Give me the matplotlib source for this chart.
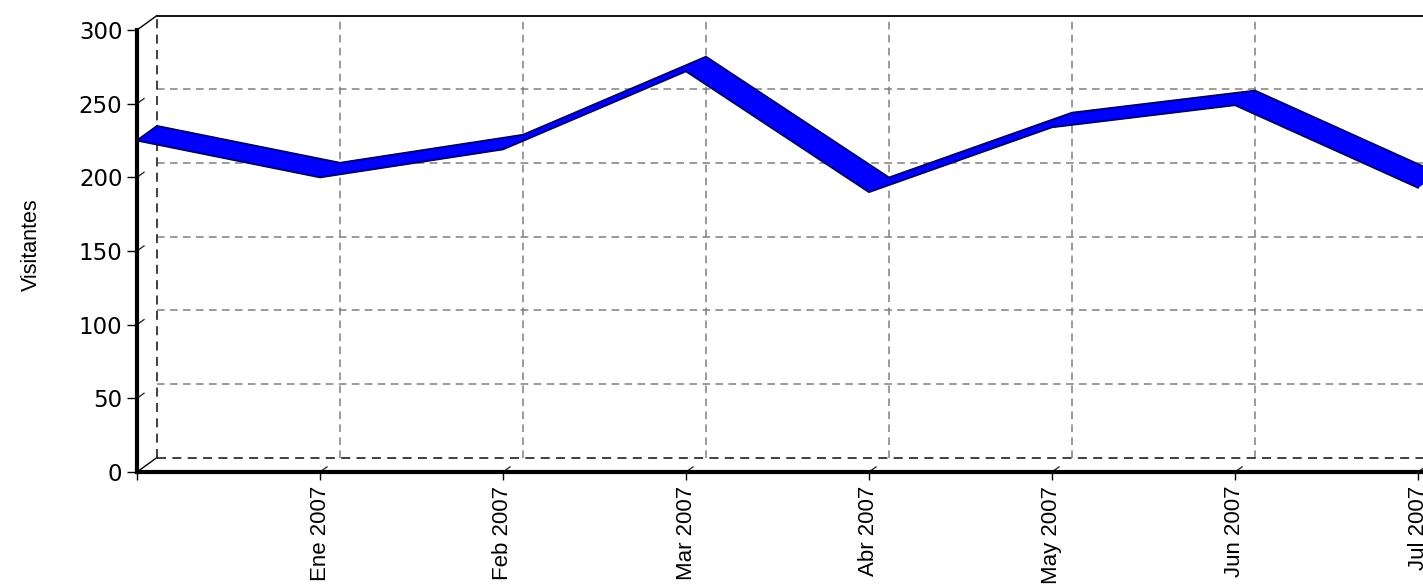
import matplotlib
matplotlib.use("Agg")
import matplotlib.pyplot as plt

# ---- data ----
categories = ["", "Ene 2007", "Feb 2007", "Mar 2007", "Abr 2007", "May 2007", "Jun 2007", "Jul 2007"]
visitantes = [225, 200, 219, 272, 190, 234, 249, 193]
y_ticks = [0, 50, 100, 150, 200, 250, 300]
y_label = "Visitantes"

plt.rcParams['font.family'] = ['Liberation Sans', 'DejaVu Sans']

W, H = 1423, 584
fig = plt.figure(figsize=(W / 100, H / 100), dpi=100)
fig.patch.set_facecolor('white')

# axes geometry (front plane)
px_per_cat = 183.0
px_per_unit = 442.0 / 300.0
left_px, bottom_px = 137.0, 472.0
xmax = 7.5
ax = fig.add_axes([left_px / W, (H - bottom_px) / H, xmax * px_per_cat / W, 442.0 / H])
ax.set_xlim(0, xmax)
ax.set_ylim(0, 300)
ax.set_facecolor('none')

# 3D depth offset (data units)
dx = 20.0 / px_per_cat
dy = 14.5 / px_per_unit

# spines
for s in ['top', 'right']:
    ax.spines[s].set_visible(False)
ax.spines['left'].set_linewidth(3)
ax.spines['bottom'].set_linewidth(3)
ax.spines['left'].set_zorder(6)
ax.spines['bottom'].set_zorder(6)

xs = list(range(len(categories)))
ax.set_xticks(xs)
ax.set_xticklabels(categories, rotation=90, fontsize=16, va='top', ha='center')
ax.set_yticks(y_ticks)
ax.set_yticklabels([str(v) for v in y_ticks], fontsize=16.5, family='DejaVu Sans')
ax.tick_params(axis='y', length=7, width=1, pad=3.5, direction='out')
ax.tick_params(axis='x', length=6, width=1, pad=4, direction='out')

grid_kw = dict(color='#808080', lw=1.1, ls=(0, (5, 3.5)), clip_on=False, zorder=1)
# back wall horizontal grid
for v in y_ticks[1:-1]:
    ax.plot([dx, xmax + dx + 1], [v + dy, v + dy], **grid_kw)
# back wall vertical grid
for i in xs[1:]:
    ax.plot([i + dx, i + dx], [dy, 300 + dy], **grid_kw)
# back wall edges
dark_kw = dict(color='#303030', lw=1.3, ls=(0, (5, 3.5)), clip_on=False, zorder=2)
ax.plot([dx, dx], [dy, 300 + dy], **dark_kw)
ax.plot([dx, xmax + dx + 1], [dy, dy], **dark_kw)
ax.plot([dx, xmax + dx + 1], [300 + dy, 300 + dy], color='black', lw=1.3, clip_on=False, zorder=2)
# corner connectors
ax.plot([0, dx], [300, 300 + dy], color='black', lw=1, clip_on=False, zorder=2)
ax.plot([0, dx], [0, dy], color='black', lw=1, clip_on=False, zorder=2)
# small tick connectors
for v in y_ticks[1:-1]:
    ax.plot([0, 0.35 * dx], [v, v + 0.35 * dy], color='#303030', lw=1, clip_on=False, zorder=2)
for i in xs[1:]:
    ax.plot([i, i + 0.35 * dx], [0, 0.35 * dy], color='#303030', lw=1, clip_on=False, zorder=2)

# ribbon
blue = '#0000ff'
navy = '#000070'
for i in range(len(visitantes) - 1):
    x0, x1 = xs[i], xs[i + 1]
    y0, y1 = visitantes[i], visitantes[i + 1]
    ax.fill([x0, x1, x1 + dx, x0 + dx], [y0, y1, y1 + dy, y0 + dy],
            facecolor=blue, edgecolor=blue, lw=0.6, clip_on=False, zorder=4)
ax.plot(xs, visitantes, color=navy, lw=1.4, clip_on=False, zorder=5)
ax.plot([x + dx for x in xs], [v + dy for v in visitantes], color=navy, lw=1.4, clip_on=False, zorder=5)
ax.plot([xs[0], xs[0] + dx], [visitantes[0], visitantes[0] + dy], color=navy, lw=1.4, clip_on=False, zorder=5)

fig.text(31 / W, 1 - 245 / H, y_label, rotation=90, ha='center', va='center', fontsize=15.5)

fig.savefig('out.png', dpi=100, facecolor='white')
